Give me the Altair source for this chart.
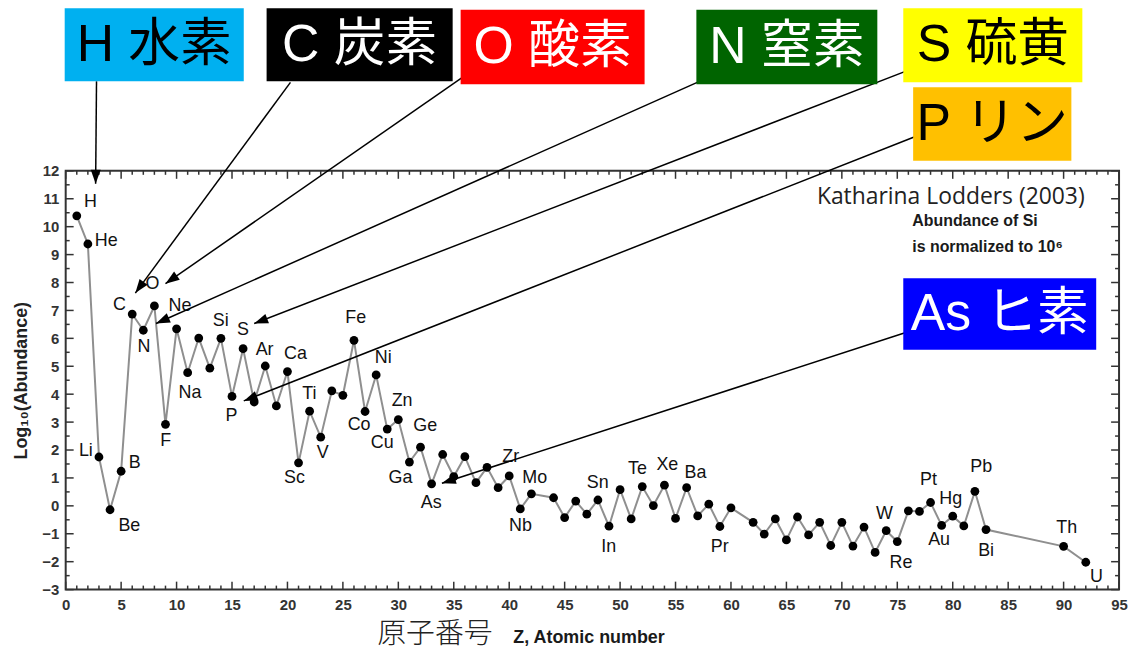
import math
import altair as alt
import pandas as pd

# ---------------- data ----------------
z = [1, 2, 3, 4, 5, 6, 7, 8, 9, 10, 11, 12, 13, 14, 15, 16, 17, 18, 19, 20,
     21, 22, 23, 24, 25, 26, 27, 28, 29, 30, 31, 32, 33, 34, 35, 36, 37, 38, 39, 40,
     41, 42, 44, 45, 46, 47, 48, 49, 50, 51, 52, 53, 54, 55, 56, 57, 58, 59, 60,
     62, 63, 64, 65, 66, 67, 68, 69, 70, 71, 72, 73, 74, 75, 76, 77, 78, 79, 80,
     81, 82, 83, 90, 92]
log_abund = [10.39, 9.38, 1.75, -0.14, 1.24, 6.87, 6.29, 7.16, 2.92, 6.34,
             4.77, 6.01, 4.93, 6.00, 3.92, 5.63, 3.72, 5.01, 3.58, 4.81,
             1.54, 3.39, 2.46, 4.12, 3.96, 5.93, 3.38, 4.69, 2.75, 3.09,
             1.57, 2.10, 0.79, 1.84, 1.05, 1.76, 0.83, 1.38, 0.65, 1.07,
             -0.11, 0.43, 0.29, -0.42, 0.17, -0.30, 0.21, -0.73, 0.58, -0.47,
             0.69, 0.01, 0.74, -0.45, 0.65, -0.36, 0.06, -0.74, -0.07,
             -0.59, -1.01, -0.47, -1.22, -0.40, -1.04, -0.59, -1.42, -0.59, -1.44,
             -0.76, -1.67, -0.89, -1.28, -0.18, -0.20, 0.12, -0.70, -0.37,
             -0.72, 0.52, -0.85, -1.45, -2.02]

# element labels and where they sit (data units)
lab_sym = ["H", "He", "Li", "Be", "B", "C", "N", "O", "F", "Ne", "Na", "Si", "P", "S",
           "Ar", "Ca", "Sc", "Ti", "V", "Fe", "Co", "Ni", "Cu", "Zn", "Ga", "Ge", "As",
           "Zr", "Nb", "Mo", "In", "Sn", "Te", "Xe", "Ba", "Pr", "W", "Re", "Pt", "Au",
           "Hg", "Pb", "Bi", "Th", "U"]
lab_z = [2.24, 3.65, 1.82, 5.74, 6.22, 4.84, 7.05, 7.83, 9.02, 10.31, 11.21, 13.99, 14.94, 15.99,
         17.94, 20.72, 20.63, 21.97, 23.17, 26.15, 26.46, 28.64, 28.55, 30.34, 30.19, 32.43, 32.97,
         40.14, 41.01, 42.30, 48.97, 47.98, 51.57, 54.26, 56.80, 58.98, 73.84, 75.34, 77.81, 78.77,
         79.82, 82.57, 83.01, 90.28, 92.97]
lab_v = [10.87, 9.50, 1.98, -0.71, 1.52, 7.21, 5.70, 7.96, 2.32, 7.15, 4.04, 6.62, 3.21, 6.30,
         5.58, 5.44, 0.98, 4.00, 1.90, 6.71, 2.91, 5.29, 2.26, 3.74, 1.01, 2.85, 0.10,
         1.76, -0.71, 1.01, -1.48, 0.83, 1.33, 1.45, 1.16, -1.48, -0.30, -2.04, 0.93, -1.21,
         0.24, 1.40, -1.62, -0.81, -2.55]

# tick values
x_major = list(range(0, 96, 5))
x_minor = [v for v in range(0, 96) if v % 5]
y_major = list(range(-3, 13))
y_minor = [v + 0.5 for v in range(-3, 12)]

# highlighted-element boxes (text, fill, ink, z-range, value-range)
box_text = ["H 水素", "C 炭素", "O 酸素", "N 窒素", "S 硫黄", "P リン", "As ヒ素"]
box_fill = ["#00B0F0", "#000000", "#FF0000", "#006400", "#FFFF00", "#FFC000", "#0000FF"]
box_ink = ["#000000", "#FFFFFF", "#FFFFFF", "#FFFFFF", "#000000", "#000000", "#FFFFFF"]
box_z1 = [-0.09, 18.12, 35.62, 56.88, 75.54, 76.43, 75.54]
box_z2 = [16.06, 34.90, 52.21, 73.20, 91.69, 90.70, 92.94]
box_v1 = [15.21, 15.21, 15.10, 15.10, 15.17, 12.36, 5.59]
box_v2 = [17.82, 17.82, 17.77, 17.77, 17.82, 14.99, 8.15]

# arrows: start (at box) -> tip (at element)
arr_z1 = [2.78, 20.27, 36.69, 57.77, 76.43, 76.52, 75.63]
arr_v1 = [15.21, 15.17, 15.60, 15.31, 15.67, 13.21, 6.19]
arr_z2 = [2.70, 6.28, 9.00, 8.15, 17.00, 16.06, 33.93]
arr_v2 = [11.54, 7.62, 7.96, 6.53, 6.53, 3.76, 0.81]

# ---------------- layout ----------------
W, H = 1059, 421
ZMIN, ZMAX, VMIN, VMAX = 0, 95, -3, 12
pxz = W / (ZMAX - ZMIN)
pxv = H / (VMAX - VMIN)
FRAME = "#333333"
LATIN = "Liberation Sans, Arial, DejaVu Sans"
CJK = "Liberation Sans, Noto Sans CJK JP"

xs = alt.Scale(domain=[ZMIN, ZMAX], nice=False, zero=False)
ys = alt.Scale(domain=[VMIN, VMAX], nice=False, zero=False)
xaxis = alt.Axis(values=x_major, ticks=False, domain=False, grid=False, title=None,
                 labelFont=LATIN, labelFontWeight="bold", labelFontSize=15,
                 labelColor="#333333", labelPadding=8, labelFlush=False)
yaxis = alt.Axis(values=y_major, ticks=False, domain=False, grid=False,
                 title="Log₁₀(Abundance)", titleFont=LATIN, titleFontWeight="bold",
                 titleFontSize=18, titleColor="#222222", titlePadding=11,
                 labelFont=LATIN, labelFontWeight="bold", labelFontSize=15,
                 labelColor="#333333", labelPadding=7, labelFlush=False)


def X(f):
    return alt.X(f, type="quantitative", scale=xs, axis=xaxis)


def Y(f):
    return alt.Y(f, type="quantitative", scale=ys, axis=yaxis)


series = pd.DataFrame({"z": z, "v": log_abund})
labels = pd.DataFrame({"s": lab_sym, "z": lab_z, "v": lab_v})

# ticks (inward, on all four sides)
MAJ, MIN = 8, 4
tick_rows = []
for vals, L in ((x_major, MAJ), (x_minor, MIN)):
    for t in vals:
        tick_rows.append({"x": t, "x2": t, "y": VMIN, "y2": VMIN + L / pxv})
        tick_rows.append({"x": t, "x2": t, "y": VMAX, "y2": VMAX - L / pxv})
for vals, L in ((y_major, MAJ), (y_minor, MIN)):
    for t in vals:
        tick_rows.append({"x": ZMIN, "x2": ZMIN + L / pxz, "y": t, "y2": t})
        tick_rows.append({"x": ZMAX, "x2": ZMAX - L / pxz, "y": t, "y2": t})
ticks_df = pd.DataFrame(tick_rows)

boxes = pd.DataFrame({"t": box_text, "fill": box_fill, "ink": box_ink,
                      "x": box_z1, "x2": box_z2, "y": box_v1, "y2": box_v2})
boxes["cx"] = (boxes["x"] + boxes["x2"]) / 2
boxes["cy"] = (boxes["y"] + boxes["y2"]) / 2

arrows = pd.DataFrame({"x": arr_z1, "y": arr_v1, "x2": arr_z2, "y2": arr_v2})
arrows["ang"] = [
    (math.degrees(math.atan2((b - a) * pxz, (d - c) * pxv)) + 360) % 360
    for a, b, c, d in zip(arr_z1, arr_z2, arr_v1, arr_v2)
]

ticks = alt.Chart(ticks_df).mark_rule(color=FRAME, strokeWidth=1.5).encode(
    x=X("x"), x2="x2", y=Y("y"), y2="y2")

line = alt.Chart(series).mark_line(color="#8f8f8f", strokeWidth=2).encode(
    x=X("z"), y=Y("v"))
pts = alt.Chart(series).mark_circle(color="#000000", size=78, opacity=1).encode(
    x=X("z"), y=Y("v"))

lab = alt.Chart(labels).mark_text(font=LATIN, fontSize=18, color="#111111",
                                  align="center", baseline="middle").encode(
    x=X("z"), y=Y("v"), text="s:N")

notes_df = pd.DataFrame({"t": ["Katharina Lodders (2003)"], "x": [91.9], "y": [11.05]})
note1 = alt.Chart(notes_df).mark_text(font="Open Sans", fontSize=23, color="#222222",
                                      align="right", baseline="middle").encode(
    x=X("x"), y=Y("y"), text="t:N")
notes2_df = pd.DataFrame({"t": ["Abundance of Si", "is normalized to 10⁶"],
                          "x": [76.35, 76.35], "y": [10.22, 9.26]})
note2 = alt.Chart(notes2_df).mark_text(font=LATIN, fontSize=16, fontWeight="bold",
                                       color="#1a1a1a", align="left",
                                       baseline="middle").encode(
    x=X("x"), y=Y("y"), text="t:N")

xt1 = alt.Chart(pd.DataFrame({"t": ["原子番号"], "x": [33.3], "y": [-4.60]})).mark_text(
    font="Noto Sans CJK JP", fontSize=29, fontWeight=300, color="#222222",
    align="center", baseline="middle").encode(x=X("x"), y=Y("y"), text="t:N")
xt2 = alt.Chart(pd.DataFrame({"t": ["Z, Atomic number"], "x": [47.2], "y": [-4.72]})).mark_text(
    font=LATIN, fontSize=18, fontWeight="bold", color="#1a1a1a",
    align="center", baseline="middle").encode(x=X("x"), y=Y("y"), text="t:N")

arrow_lines = alt.Chart(arrows).mark_rule(color="#000000", strokeWidth=1.5).encode(
    x=X("x"), y=Y("y"), x2="x2", y2="y2")
arrow_heads = alt.Chart(arrows).mark_point(
    shape="M0,0L-0.5,1.4L0.5,1.4Z", filled=True, color="#000000",
    size=400, opacity=1, strokeWidth=0).encode(
    x=X("x2"), y=Y("y2"), angle=alt.Angle("ang:Q", scale=None))

box_rects = alt.Chart(boxes).mark_rect().encode(
    x=X("x"), x2="x2", y=Y("y"), y2="y2", fill=alt.Fill("fill:N", scale=None))
box_texts = alt.Chart(boxes).mark_text(font=CJK, fontSize=52, align="center",
                                       baseline="middle").encode(
    x=X("cx"), y=Y("cy"), text="t:N", color=alt.Color("ink:N", scale=None))

chart = alt.layer(
    line, pts, lab, note1, note2, xt1, xt2, ticks,
    arrow_lines, box_rects, box_texts, arrow_heads,
).properties(
    width=W, height=H,
    padding={"left": 58, "top": 162, "right": 9, "bottom": 58},
    autosize=alt.AutoSizeParams(type="none"),
    background="white",
).configure_view(stroke=FRAME, strokeWidth=2)

chart.save("out.html", embed_options={"renderer": "svg", "actions": False})
